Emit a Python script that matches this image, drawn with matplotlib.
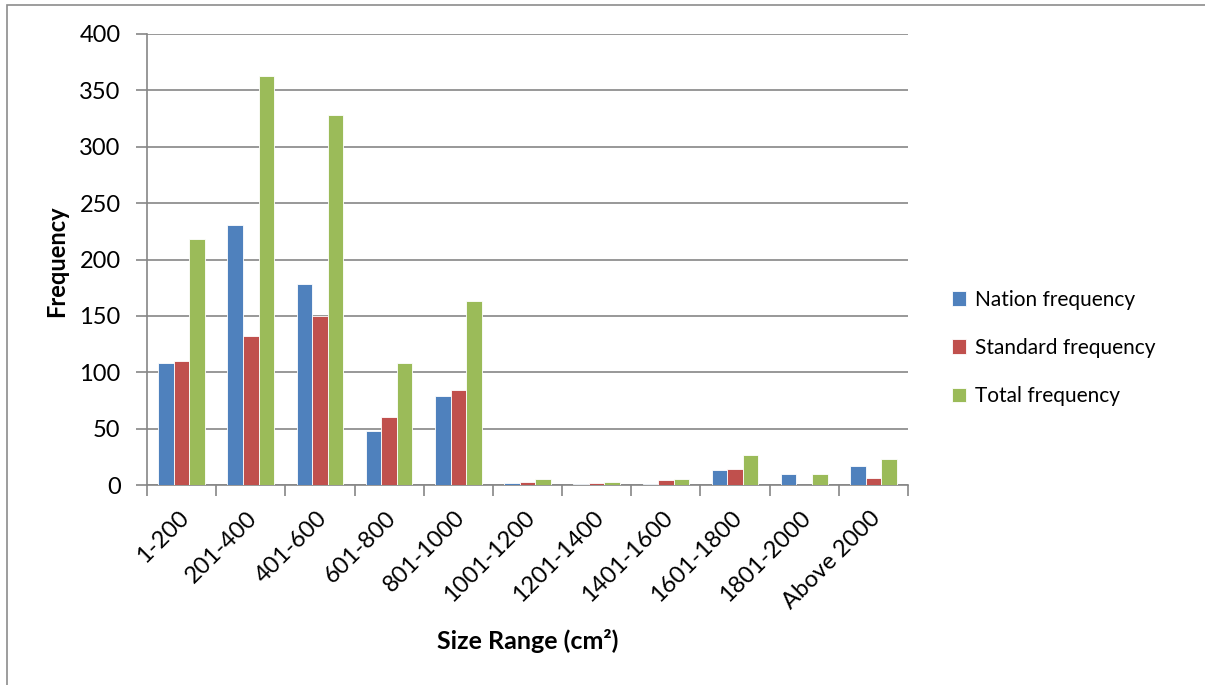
import matplotlib
matplotlib.use('Agg')
import matplotlib.pyplot as plt
import matplotlib.transforms as mtransforms
import numpy as np
from matplotlib.patches import Rectangle

plt.rcParams['font.family'] = ['Lato', 'DejaVu Sans']

ranges = ['1-200', '201-400', '401-600', '601-800', '801-1000', '1001-1200',
          '1201-1400', '1401-1600', '1601-1800', '1801-2000', 'Above 2000']
nation = [108, 231, 178, 48, 79, 2, 1, 1, 13, 10, 17]
standard = [110, 132, 150, 60, 84, 3, 2, 4, 14, 0, 6]
total = [218, 363, 328, 108, 163, 5, 3, 5, 27, 10, 23]

series = [('Nation frequency', nation, '#4F81BD'),
          ('Standard frequency', standard, '#C0504D'),
          ('Total frequency', total, '#9BBB59')]

W, H = 1205, 685
fig = plt.figure(figsize=(W / 100, H / 100), dpi=100)
ax = fig.add_axes([147 / W, 1 - 485 / H, (908 - 147) / W, (485 - 34) / H])

# outer chart frame
fig.patches.append(Rectangle((7 / W, -0.01), 1.0, 1 - 5 / H + 0.01,
                             transform=fig.transFigure, fill=False,
                             edgecolor='#8c8c8c', linewidth=1.2))

x = np.arange(len(ranges))
bw = 0.225
for i, (name, vals, col) in enumerate(series):
    ax.bar(x + (i - 1) * bw, vals, width=bw, color=col, edgecolor='white',
           linewidth=0.6, label=name, zorder=3)

ax.set_xlim(-0.5, len(ranges) - 0.5)
ax.set_ylim(0, 400)
ax.set_yticks(range(0, 401, 50))
ax.yaxis.grid(True, color='#868686', linewidth=1.2, zorder=0)

gray = '#868686'
for s in ['top', 'right']:
    ax.spines[s].set_visible(False)
for s in ['left', 'bottom']:
    ax.spines[s].set_color(gray)
    ax.spines[s].set_linewidth(1.2)

ax.tick_params(axis='y', length=8, width=1.2, color=gray, labelsize=17, pad=11)
ax.set_xticks(np.arange(len(ranges) + 1) - 0.5)
ax.set_xticklabels([])
ax.tick_params(axis='x', length=8, width=1.2, color=gray)
ax.set_xticks(x, minor=True)
ax.set_xticklabels(ranges, minor=True, rotation=45, ha='right',
                   rotation_mode='anchor', fontsize=17)
ax.tick_params(axis='x', which='minor', length=0, pad=16)
# nudge the slanted category labels a little to the left
shift = mtransforms.ScaledTranslation(-4 / 100, 0, fig.dpi_scale_trans)
for lbl in ax.get_xticklabels(minor=True):
    lbl.set_transform(lbl.get_transform() + shift)

fig.text(57 / W, 1 - 261 / H, 'Frequency', fontsize=17, fontweight='bold',
         rotation=90, ha='center', va='center')
fig.text(528 / W, 1 - 641 / H, 'Size Range (cm²)', fontsize=18,
         fontweight='bold', ha='center', va='center')

ax.legend(loc='center left', bbox_to_anchor=(933 / W, 1 - 348 / H),
          bbox_transform=fig.transFigure, frameon=False, fontsize=15,
          handlelength=0.7, handleheight=0.7, handletextpad=0.4,
          labelspacing=1.35)

fig.savefig('out.png', dpi=100)
